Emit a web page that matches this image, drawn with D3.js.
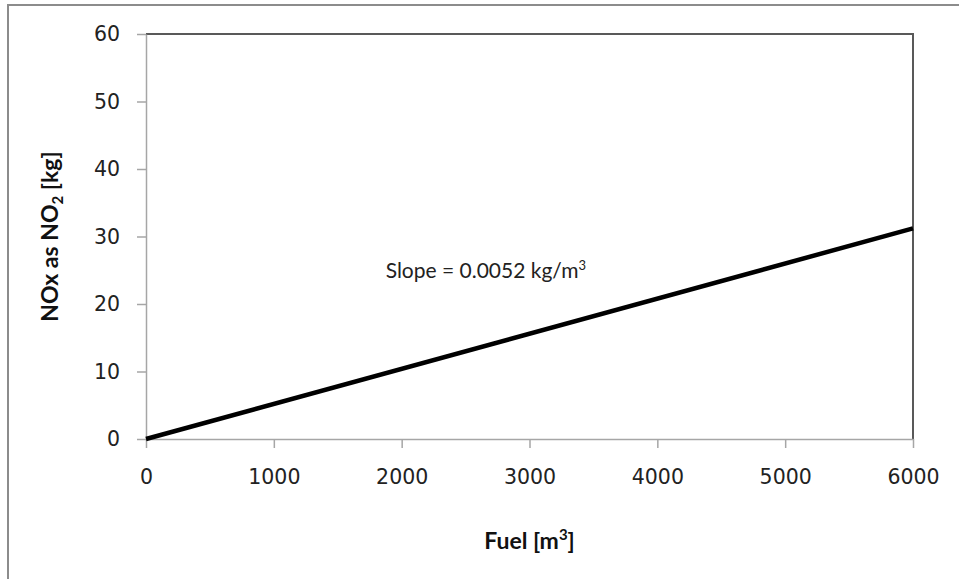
<!DOCTYPE html>
<html lang="en">
<head>
  <meta charset="UTF-8">
  <title>NOx vs Fuel</title>
  <script src="https://d3js.org/d3.v7.min.js"></script>
  <style>
    body { margin: 0; background: #fff; }
    .title { font-family: 'Lato', 'Open Sans', sans-serif; font-weight: bold; font-size: 23px; fill: #111; }
    .note { font-family: 'Lato', 'Open Sans', sans-serif; font-size: 21px; fill: #222; }
  </style>
</head>
<body>
<div class="chart"></div>
<script>
  // data
  const fuel = [0, 6000];
  const nox = [0, 31.2];
  const xTicks = [0, 1000, 2000, 3000, 4000, 5000, 6000];
  const yTicks = [0, 10, 20, 30, 40, 50, 60];

  const W = 959, H = 579;
  const margin = { top: 34, right: 46, bottom: 140, left: 146 };
  const width = W - margin.left - margin.right;
  const height = H - margin.top - margin.bottom;

  const svg = d3.select('.chart').append('svg')
    .attr('width', W)
    .attr('height', H);

  // outer frame (only top and left edges visible)
  svg.append('path')
    .attr('d', `M8,${H} L8,5 L${W},5`)
    .attr('fill', 'none')
    .attr('stroke', '#8c8c8c')
    .attr('stroke-width', 2);

  const g = svg.append('g')
    .attr('transform', 'translate(' + margin.left + ',' + margin.top + ')');

  const x = d3.scaleLinear().domain([0, 6000]).range([0, width]);
  const y = d3.scaleLinear().domain([0, 60]).range([height, 0]);

  // top and right plot borders
  g.append('path')
    .attr('d', `M0,0 L${width},0 L${width},${height}`)
    .attr('fill', 'none')
    .attr('stroke', '#595959')
    .attr('stroke-width', 2);

  const xAxis = g.append('g')
    .attr('transform', 'translate(0,' + height + ')')
    .call(d3.axisBottom(x).tickValues(xTicks).tickFormat(d3.format('d'))
      .tickSize(9).tickSizeOuter(0).tickPadding(21));

  const yAxis = g.append('g')
    .call(d3.axisLeft(y).tickValues(yTicks).tickFormat(d3.format('d'))
      .tickSize(9).tickSizeOuter(0).tickPadding(17));

  [xAxis, yAxis].forEach(a => {
    a.select('.domain').attr('stroke', '#a6a6a6').attr('stroke-width', 1.5);
    a.selectAll('.tick line').attr('stroke', '#a6a6a6').attr('stroke-width', 1.5);
    a.selectAll('.tick text')
      .style('font-family', "'DejaVu Sans', sans-serif")
      .style('font-size', '20.5px')
      .style('fill', '#222');
  });
  xAxis.selectAll('.tick text').attr('dy', '0.71em');

  const line = d3.line()
    .x(d => x(d[0]))
    .y(d => y(d[1]));

  g.append('path')
    .datum(fuel.map((f, i) => [f, nox[i]]))
    .attr('d', line)
    .attr('fill', 'none')
    .attr('stroke', '#000')
    .attr('stroke-width', 4.5);

  // annotation
  const note = g.append('text')
    .attr('class', 'note')
    .attr('x', x(1875))
    .attr('y', y(23.8));
  note.append('tspan').text('Slope = 0.0052 kg/m');
  note.append('tspan').attr('font-size', '13px').attr('dy', '-8').text('3');

  // x title
  const xt = svg.append('text')
    .attr('class', 'title')
    .attr('text-anchor', 'middle')
    .attr('x', margin.left + width / 2)
    .attr('y', 549);
  xt.append('tspan').text('Fuel [m');
  xt.append('tspan').attr('font-size', '15px').attr('dy', '-9').text('3');
  xt.append('tspan').attr('dy', '9').text(']');

  // y title
  const yt = svg.append('text')
    .attr('class', 'title')
    .attr('text-anchor', 'middle')
    .attr('transform', `translate(58,${margin.top + height / 2}) rotate(-90)`);
  yt.append('tspan').text('NOx as NO');
  yt.append('tspan').attr('font-size', '15px').attr('dy', '5').text('2');
  yt.append('tspan').attr('dy', '-5').text(' [kg]');
</script>
</body>
</html>
